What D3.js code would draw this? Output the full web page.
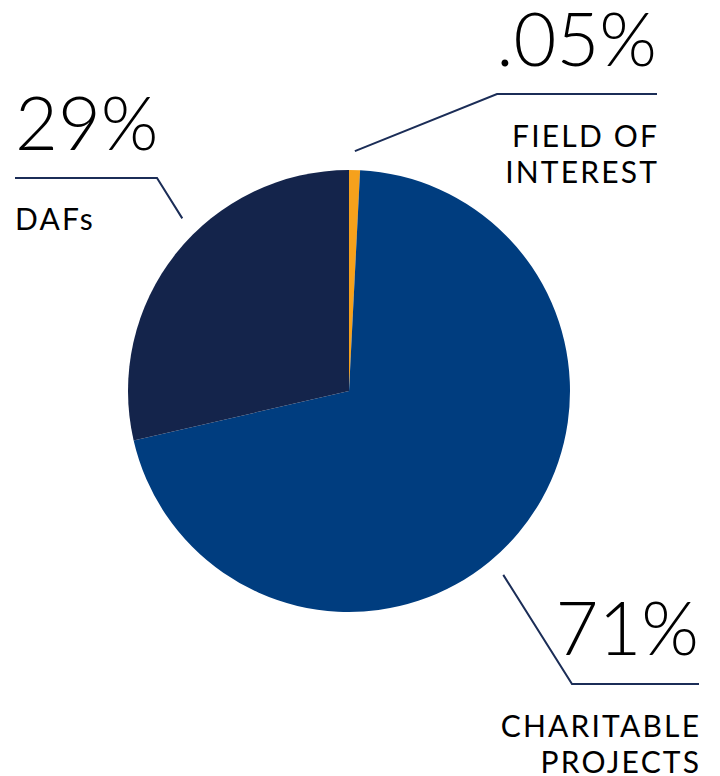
<!DOCTYPE html>
<html>
<head>
<meta charset="utf-8">
<script src="https://cdn.jsdelivr.net/npm/d3@7"></script>
<style>
  body { margin: 0; background: #fff; }
  svg { display: block; }
  text { font-family: Lato, "Open Sans", sans-serif; fill: #000; }
</style>
</head>
<body>
<svg width="720" height="776"></svg>
<script>
// data (share of the circle)
var categories = ["FIELD OF INTEREST", "CHARITABLE PROJECTS", "DAFs"];
var values = [0.8, 70.6, 28.6];
var pctLabels = [".05%", "71%", "29%"];
var colors = ["#f6a11c", "#003d7f", "#14244b"];

var svg = d3.select("svg"),
    cx = 349,
    cy = 391,
    radius = 221;

var pie = d3.pie().sort(null).value(function(d) { return d; });
var arc = d3.arc().innerRadius(0).outerRadius(radius);

var g = svg.append("g").attr("transform", "translate(" + cx + "," + cy + ")");

g.selectAll("path")
    .data(pie(values))
    .enter().append("path")
    .attr("d", arc)
    .attr("fill", function(d, i) { return colors[i]; });

// leader lines + labels
var labels = [
    { angle: 1.4, elbow: [497, 94], end: 657, anchor: "end", pctX: 657, pctY: 66, lines: ["FIELD OF", "INTEREST"], textY: 147 },
    { angle: 140, elbow: [572, 684], end: 699, anchor: "end", pctX: 699, pctY: 655, lines: ["CHARITABLE", "PROJECTS"], textY: 737 },
    { angle: 316, elbow: [157, 178], end: 15, anchor: "start", pctX: 15, pctY: 150, lines: ["DAFs"], textY: 230 }
];

var spacing = 2.2;

labels.forEach(function(l, i) {
    var a = l.angle * Math.PI / 180;
    var sx = cx + 240 * Math.sin(a),
        sy = cy - 240 * Math.cos(a);
    svg.append("polyline")
        .attr("points", [[sx, sy], l.elbow, [l.end, l.elbow[1]]].map(function(p) { return p.join(","); }).join(" "))
        .attr("fill", "none")
        .attr("stroke", "#1b2d57")
        .attr("stroke-width", 2);

    svg.append("text")
        .attr("x", l.pctX)
        .attr("y", l.pctY)
        .attr("text-anchor", l.anchor)
        .style("font-size", "74px")
        .style("font-weight", 300)
        .text(pctLabels[i]);

    var tx = l.anchor == "end" ? l.pctX + spacing : l.pctX;
    svg.append("text")
        .attr("x", tx)
        .attr("y", l.textY)
        .attr("text-anchor", l.anchor)
        .style("font-size", "30px")
        .style("font-weight", 400)
        .style("letter-spacing", spacing + "px")
        .selectAll("tspan")
        .data(l.lines)
        .enter().append("tspan")
        .attr("x", tx)
        .attr("dy", function(d, j) { return j ? 36 : 0; })
        .text(function(d) { return d; });
});
</script>
</body>
</html>
